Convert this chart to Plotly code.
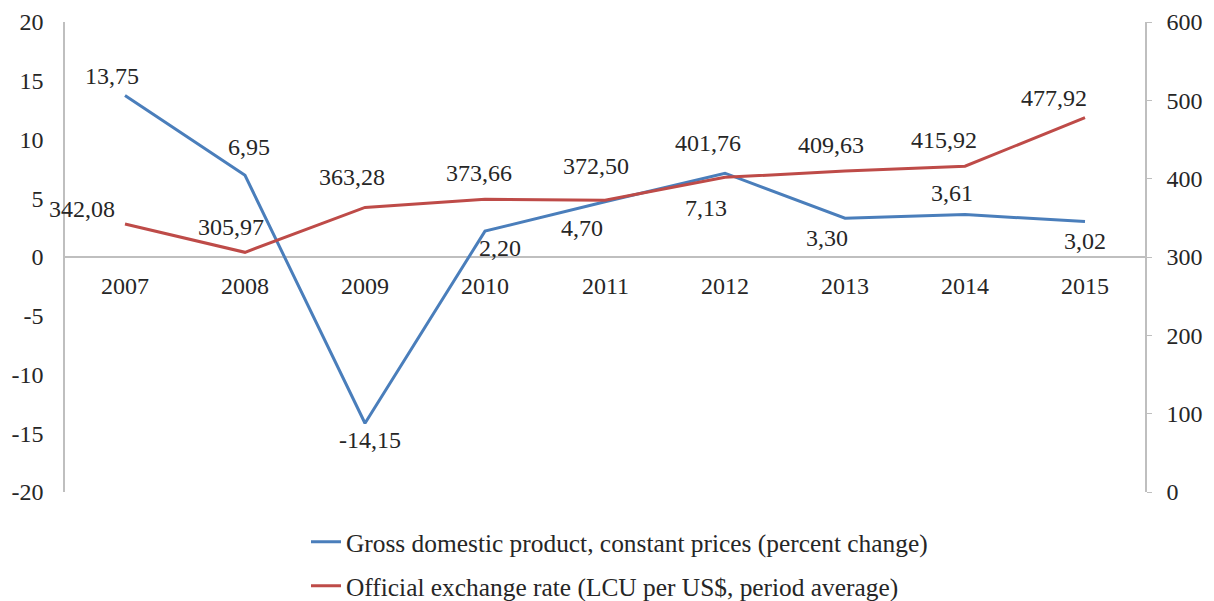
import plotly.graph_objects as go

years = ["2007", "2008", "2009", "2010", "2011", "2012", "2013", "2014", "2015"]
gdp = [13.75, 6.95, -14.15, 2.20, 4.70, 7.13, 3.30, 3.61, 3.02]
rate = [342.08, 305.97, 363.28, 373.66, 372.50, 401.76, 409.63, 415.92, 477.92]
gdp_name = "Gross domestic product, constant prices (percent change)"
rate_name = "Official exchange rate (LCU per US$, period average)"
left_ticks = [-20, -15, -10, -5, 0, 5, 10, 15, 20]
right_ticks = [0, 100, 200, 300, 400, 500, 600]

# label offsets in pixels (style only)
gdp_dx = [-13, 4, 5, 15, -23, -19, -18, -13, 0]
gdp_dy = [19, 28, -17, -17, -26, -35, -20, 22, -19]
rate_dx = [-43, -14, -13, -6, -9, -17, -14, -21, -31]
rate_dy = [15, 25, 30, 26, 34, 34, 26, 26, 20]

FONT = "Liberation Serif"
FS = 24
LFS = 25.4
TXT = "#262626"
BLUE = "#4A7EBB"
RED = "#BE4B48"
GRAY = "#BFBFBF"

def fmt(v):
    return f"{v:.2f}".replace(".", ",")

fig = go.Figure()
fig.add_trace(go.Scatter(x=years, y=gdp, mode="lines", name=gdp_name, legendgroup="a",
                         line=dict(color=BLUE, width=3), yaxis="y"))
fig.add_trace(go.Scatter(x=years, y=rate, mode="lines", name=rate_name, legendgroup="b",
                         line=dict(color=RED, width=3), yaxis="y2"))

ann = []
for i, y in enumerate(years):
    ann.append(dict(x=i, y=gdp[i], xref="x", yref="y", text=fmt(gdp[i]), showarrow=False,
                    xshift=gdp_dx[i], yshift=gdp_dy[i], font=dict(family=FONT, size=FS, color=TXT)))
    ann.append(dict(x=i, y=rate[i], xref="x", yref="y2", text=fmt(rate[i]), showarrow=False,
                    xshift=rate_dx[i], yshift=rate_dy[i], font=dict(family=FONT, size=FS, color=TXT)))
    ann.append(dict(x=i, y=0, xref="x", yref="y", text=y, showarrow=False,
                    yshift=-29, font=dict(family=FONT, size=FS, color=TXT)))

fig.update_layout(
    width=1214, height=601,
    margin=dict(l=65, r=69, t=22, b=109, autoexpand=False),
    paper_bgcolor="white", plot_bgcolor="white",
    font=dict(family=FONT, size=FS, color=TXT),
    xaxis=dict(type="category", range=[-0.5, 8.5], showticklabels=False, showgrid=False,
               zeroline=False, showline=False, ticks=""),
    yaxis=dict(range=[-20, 20], tickvals=left_ticks, ticktext=[str(v) for v in left_ticks],
               showgrid=False, zeroline=True, zerolinecolor=GRAY, automargin=False,
               zerolinewidth=1.5, showline=True, linecolor=GRAY, linewidth=1.5, ticks="",
               ticklabelstandoff=15, tickfont=dict(family=FONT, size=FS, color=TXT)),
    yaxis2=dict(range=[0, 600], tickvals=right_ticks, ticktext=[str(v) for v in right_ticks],
                overlaying="y", side="right", showgrid=False, automargin=False,
                zeroline=False, showline=True, linecolor=GRAY, linewidth=1.5, ticks="outside",
                ticklen=5, tickcolor=GRAY, ticklabelstandoff=10,
                tickfont=dict(family=FONT, size=FS, color=TXT)),
    legend=dict(x=(306 - 65) / 1080, y=-0.057, xanchor="left", yanchor="top",
                traceorder="grouped", tracegroupgap=8,
                bgcolor="rgba(0,0,0,0)", font=dict(family=FONT, size=LFS, color=TXT)),
    annotations=ann,
)

fig.write_html("out.html", config={"displayModeBar": False},
               post_script="document.body.style.margin='0';")
